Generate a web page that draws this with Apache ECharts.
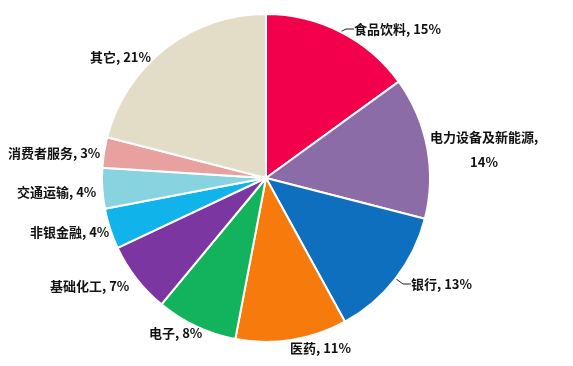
<!DOCTYPE html>
<html><head><meta charset="utf-8">
<script src="https://cdn.jsdelivr.net/npm/echarts@6/dist/echarts.min.js"></script>
<style>html,body{margin:0;padding:0;background:#fff}#c{width:573px;height:366px}</style>
</head><body><div id="c"></div>
<script>
const categories = ['食品饮料','电力设备及新能源','银行','医药','电子','基础化工','非银金融','交通运输','消费者服务','其它'];
const values = [15,14,13,11,8,7,4,4,3,21];
const colors = ['#F2004B','#8C6CA6','#0E6FBF','#F77B0C','#12B35C','#7B36A1','#10B3EA','#88D3E0','#E9A1A0','#E3DDC7'];
const labelTexts = ['食品饮料, 15%','电力设备及新能源,\n14%','银行, 13%','医药, 11%','电子, 8%','基础化工, 7%','非银金融, 4%','交通运输, 4%','消费者服务, 3%','其它, 21%'];
const labelAnchors = [[354,29,'left'],[484,150,'center'],[411,284,'left'],[290,348,'left'],[149,333,'left'],[50,286,'left'],[30,232,'left'],[17,192,'left'],[8,153,'left'],[90,57,'left']];
const showLine = [true,false,true,false,false,false,false,false,false,false];

const chart = echarts.init(document.getElementById('c'));
chart.setOption({
  animation:false,
  series:[{
    type:'pie',
    center:[266,178],
    radius:[0,164],
    startAngle:90,
    clockwise:true,
    data: categories.map((n,i)=>({
      name:n, value:values[i],
      itemStyle:{color:colors[i]},
      label:{formatter:labelTexts[i]},
      labelLine:{show:showLine[i]}
    })),
    itemStyle:{borderColor:'#fff',borderWidth:2},
    label:{show:true,position:'outside',color:'#111',fontSize:13,fontWeight:'bold',
      fontFamily:'"Noto Sans CJK SC", sans-serif',lineHeight:25,overflow:'none',width:200},
    labelLine:{length:2,length2:8,lineStyle:{color:'#222',width:1}},
    labelLayout:function(p){
      const a = labelAnchors[p.dataIndex];
      return {x:a[0],y:a[1],align:a[2],verticalAlign:'middle'};
    }
  }]
});
</script></body></html>
